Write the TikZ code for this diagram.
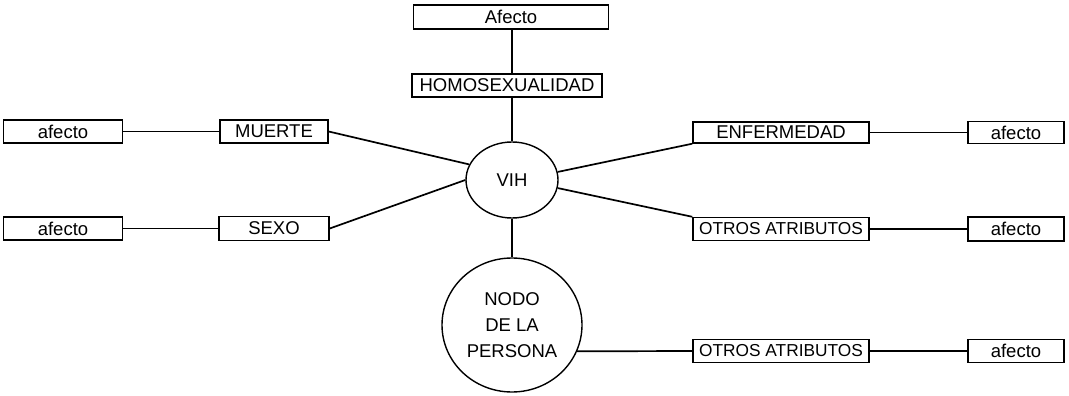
\documentclass[tikz,border=0pt]{standalone}
\usepackage{fontspec}
\setmainfont{Liberation Sans}
\usetikzlibrary{shapes.geometric}
\begin{document}
\begin{tikzpicture}[x=1pt,y=-1pt,
  every node/.style={font=\fontsize{18.5}{26}\selectfont},
  box/.style={draw, line width=1.4pt, inner sep=0pt, minimum height=23pt},
  tight/.style={font=\fontsize{17.3}{20}\selectfont},
  oval/.style={draw, ellipse, line width=1.4pt, inner sep=0pt, align=center},
  link/.style={line width=1.7pt}]
\useasboundingbox (0,0) rectangle (1069,396);
% central ovals
\node[oval, minimum width=92pt, minimum height=76pt] (vih) at (512,180) {VIH};
\node[oval, minimum width=140pt, minimum height=134pt] (nodo) at (512,325) {NODO\\DE LA\\PERSONA};
% top
\node[box, minimum width=195pt, minimum height=24pt] (afT) at (511,17) {Afecto};
\node[box, minimum width=190pt] (homo) at (507,85.5) {HOMOSEXUALIDAD};
% left
\node[box, minimum width=119pt] (afL1) at (63,131.5) {afecto};
\node[box, minimum width=119pt] (afL2) at (63,228.5) {afecto};
\node[box, minimum width=108pt] (muerte) at (274,131.5) {MUERTE};
\node[box, minimum width=110pt, minimum height=24pt] (sexo) at (274,228.5) {SEXO};
% right
\node[box, minimum width=176pt, minimum height=21pt] (enf) at (781,132.5) {ENFERMEDAD};
\node[box, tight, minimum width=176pt] (otros1) at (781,229) {OTROS ATRIBUTOS};
\node[box, tight, minimum width=176pt] (otros2) at (781,351) {OTROS ATRIBUTOS};
\node[box, minimum width=96pt, minimum height=22pt] (afR1) at (1016,132.5) {afecto};
\node[box, minimum width=96pt, minimum height=24pt] (afR2) at (1016,229) {afecto};
\node[box, minimum width=96pt] (afR3) at (1016,351) {afecto};
% connectors
\draw[link] (vih |- afT.south) -- (vih |- homo.north);
\draw[link] (vih |- homo.south) -- (vih.north);
\draw[link] (vih.south) -- (nodo.north);
\draw[link] (afL1.east) -- (muerte.west);
\draw[link] (afL2.east) -- (sexo.west);
\draw[link] (muerte.east) -- (vih.160);
\draw[link] (sexo.east) -- (vih.180);
\draw[link] (vih.10) -- (enf.south west);
\draw[link] (vih.-10) -- (otros1.north west);
\draw[link] (enf.east) -- (afR1.west);
\draw[link] (otros1.east) -- (afR2.west);
\draw[link] (nodo.-22) -- (otros2.west);
\draw[link] (otros2.east) -- (afR3.west);
\end{tikzpicture}
\end{document}
